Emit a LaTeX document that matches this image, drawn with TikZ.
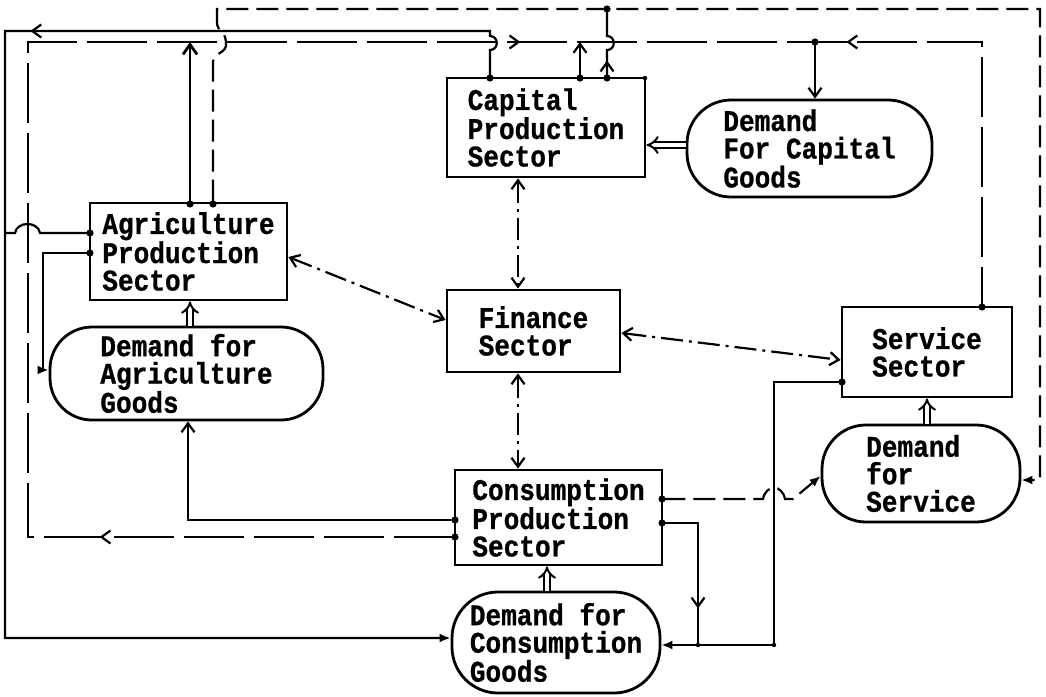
\documentclass[tikz,border=0pt]{standalone}
\usepackage{fontspec}
\newfontfamily\tw[FakeStretch=0.87,FakeBold=0.8]{Liberation Mono}
\usetikzlibrary{arrows.meta,decorations.markings}
\begin{document}
\begin{tikzpicture}[x=1pt,y=-1pt,
  lbl/.style={font=\tw\bfseries\fontsize{30}{27.5}\selectfont, align=left, inner sep=0pt},
  box/.style={lbl, draw, line width=2.8pt},
  pill/.style={lbl, draw, line width=2.8pt, rounded corners=#1},
  conn/.style={line width=2.2pt},
  ldash/.style={conn, dash pattern=on 60pt off 10pt},
  sdash/.style={conn, dash pattern=on 22pt off 8pt},
  ddot/.style={conn, dash pattern=on 22pt off 6pt on 3pt off 6pt},
  tip/.style={-{Straight Barb[length=9pt,width=13pt]}},
  tipf/.style={-{Latex[length=11pt,width=9pt]}},
  tips/.style={{Straight Barb[length=9pt,width=13pt]}-{Straight Barb[length=9pt,width=13pt]}},
  hollow/.style={double, double distance=4pt, line width=2pt, -{Implies}},
  marr/.style={postaction={decorate, decoration={markings, mark=at position #1 with {\arrow{Straight Barb[length=9pt,width=13pt]}}}}},
  marrr/.style={postaction={decorate, decoration={markings, mark=at position #1 with {\arrowreversed{Straight Barb[length=9pt,width=13pt]}}}}},
]
\useasboundingbox (0,0) rectangle (1046,696);

% nodes
\node[box, minimum width=198pt, minimum height=99pt] (cap) at (546,127.5) {Capital\\Production\\Sector};
\node[pill=44pt, minimum width=245pt, minimum height=97pt] (dcap) at (809.5,148.5) {Demand\\For Capital\\Goods};
\node[box, minimum width=197pt, minimum height=97pt] (agr) at (188.5,251.5) {Agriculture\\Production\\Sector};
\node[pill=42pt, minimum width=273pt, minimum height=93pt] (dagr) at (186.5,373.5) {Demand for\\Agriculture\\Goods};
\node[box, minimum width=173pt, minimum height=82pt] (fin) at (533.5,331) {Finance\\Sector};
\node[box, minimum width=170pt, minimum height=90pt] (srv) at (927,352) {Service\\Sector};
\node[pill=44pt, minimum width=198pt, minimum height=97pt] (dsrv) at (921,473.5) {Demand\\for\\Service};
\node[box, minimum width=207pt, minimum height=95pt] (con) at (558.5,517.5) {Consumption\\Production\\Sector};
\node[pill=46pt, minimum width=208pt, minimum height=101pt] (dcon) at (556,642.5) {Demand for\\Consumption\\Goods};

% hollow demand arrows
\draw[hollow] (dcap.west |- 0,145) -- (cap.east |- 0,145);
\draw[hollow] (190,0 |- dagr.north) -- (190,0 |- agr.south);
\draw[hollow] (547,0 |- dcon.north) -- (547,0 |- con.south);
\draw[hollow] (927,0 |- dsrv.north) -- (927,0 |- srv.south);

% finance links
\draw[ddot, tips] (agr.east |- 0,257) -- (fin.west |- 0,320);
\draw[ddot, tips] (fin.east |- 0,333) -- (srv.west |- 0,360);
\draw[ddot, tips] (518,0 |- cap.south) -- (518,0 |- fin.north);
\draw[ddot, tips] (518,0 |- fin.south) -- (518,0 |- con.north);

% capital output loop to demand for consumption goods
\draw[conn, tipf, marr=513pt] (490,0 |- cap.north) -- (490,50) .. controls (499,50) and (499,36) .. (490,36) -- (490,31) -- (5,31) -- (5,638) -- (dcon.west |- 0,638);
% agriculture into outer loop
\draw[conn] (agr.west |- 0,233) -- (40,233) .. controls (38,221) and (17,221) .. (15,233) -- (5,233);
% agriculture to its demand
\draw[conn, tipf] (agr.west |- 0,253) -- (43,253) -- (43,370) -- (dagr.west |- 0,370);
% consumption to demand for agriculture
\draw[conn, tip] (con.west |- 0,520) -- (188,520) -- (188,0 |- dagr.south);
% investment line
\draw[ldash, marr=354pt, marr=1413pt, marrr=1739pt] (con.west |- 0,537) -- (28,537) -- (28,42) -- (982,42) -- (982,0 |- srv.north);
\draw[conn, -{Straight Barb[length=10pt,width=14pt,line width=2.8pt]}] (190,0 |- agr.north) -- (190,42);
\draw[conn, tip] (580,0 |- cap.north) -- (580,42);
\draw[conn, tip] (815,42) -- (815,0 |- dcap.north);
\draw[conn, marr=16pt] (607,0 |- cap.north) -- (607,50) .. controls (616,50) and (616,36) .. (607,36) -- (607,9);
% information line
\draw[sdash, tipf] (213,0 |- agr.north) -- (213,62) .. controls (213,52) and (228,54) .. (226,42) .. controls (225,30) and (217,32) .. (217,22) -- (217,9) -- (1040,9) -- (1040,480) -- (dsrv.east |- 0,480);
% consumption to demand for service
\draw[sdash, tipf] (con.east |- 0,499) -- (763,499) .. controls (766,484) and (782,484) .. (785,499) -- (793,499) -- (dsrv.west |- 0,476);
% service to demand for consumption goods
\draw[conn, tipf] (srv.west |- 0,382) -- (774,382) -- (774,645) -- (dcon.east |- 0,645);
\draw[conn, marr=120pt] (con.east |- 0,523) -- (698,523) -- (698,645);

% dots
\foreach \p in {(490,78),(580,78),(607,78),(190,204),(213,204),(90,233),(90,253),(982,307),(842,382),(455,520),(455,537),(662,499),(662,523),(815,42),(607,9)}
  \fill \p circle (3.6pt);
\foreach \p in {(645,78),(698,645),(774,645)}
  \fill \p circle (2.2pt);
\end{tikzpicture}
\end{document}
